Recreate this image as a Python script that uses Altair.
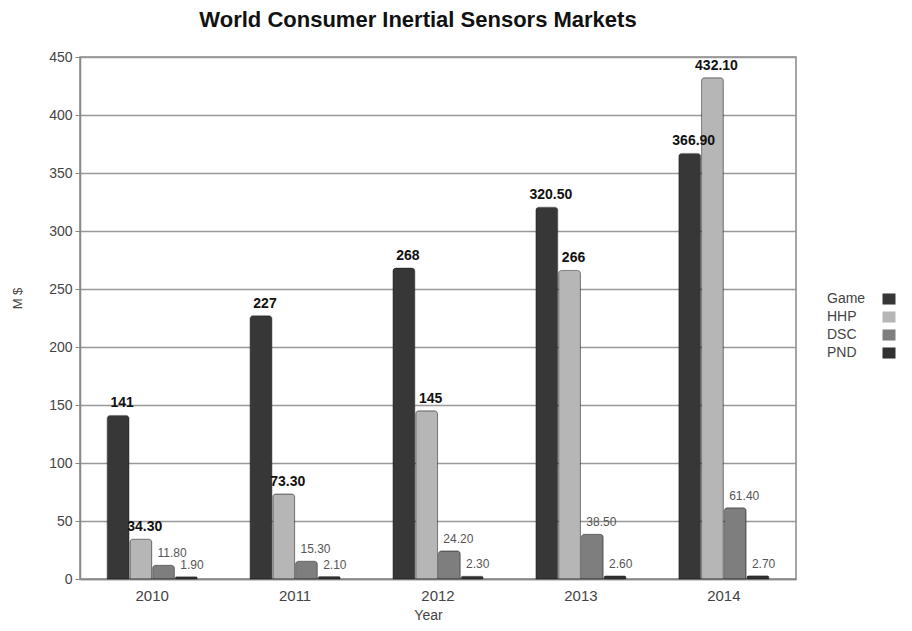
import altair as alt
import pandas as pd

years = ["2010", "2011", "2012", "2013", "2014"]
series = ["Game", "HHP", "DSC", "PND"]
game = [141, 227, 268, 320.5, 366.9]
hhp = [34.3, 73.3, 145, 266, 432.1]
dsc = [11.8, 15.3, 24.2, 38.5, 61.4]
pnd = [1.9, 2.1, 2.3, 2.6, 2.7]
colors = ["#373737", "#b6b6b6", "#7e7e7e", "#323232"]
y_ticks = [0, 50, 100, 150, 200, 250, 300, 350, 400, 450]


def fmt(v):
    return str(int(v)) if float(v).is_integer() else f"{v:.2f}"


rows = []
for s, vals in zip(series, [game, hhp, dsc, pnd]):
    for yr, v in zip(years, vals):
        rows.append({"Year": yr, "Series": s, "Name": s, "Value": v, "Label": fmt(v),
                     "Major": s in ("Game", "HHP"), "Order": series.index(s)})
df = pd.DataFrame(rows)

FONT = "Liberation Sans"

x = alt.X("Year:N", sort=years,
          scale=alt.Scale(paddingInner=0.37, paddingOuter=0.19),
          axis=alt.Axis(title="Year", labelAngle=0, ticks=False, grid=False,
                        labelPadding=9, labelFontSize=15, labelColor="#444",
                        labelFont=FONT, titleFont=FONT, titleFontSize=14,
                        titleFontWeight="normal", titleColor="#444",
                        titleX=348, titleY=29, domainColor="#888", domainWidth=1.5))
xoff = alt.XOffset("Series:N", sort=series,
                   scale=alt.Scale(domain=series, paddingInner=0.04))
y = alt.Y("Value:Q", scale=alt.Scale(domain=[0, 450], nice=False),
          axis=alt.Axis(values=y_ticks, title="M $", labelFontSize=14,
                        labelColor="#444", labelFont=FONT, labelPadding=3,
                        tickSize=5, tickColor="#888", domainColor="#888",
                        domainWidth=1.5, gridColor="#999", gridWidth=1.5,
                        titleFont=FONT, titleFontSize=13, titleFontWeight="normal",
                        titleColor="#444", titleX=-56, titleY=241))
color = alt.Color("Series:N", sort=series,
                  scale=alt.Scale(domain=series, range=colors),
                  legend=alt.Legend(title=None, orient="none", legendX=802, legendY=235,
                                    symbolType="M-1,-0.85H1V0.85H-1Z", symbolSize=169,
                                    symbolStrokeWidth=0, labelExpr="''", labelLimit=1,
                                    labelFontSize=14, labelFont=FONT,
                                    rowPadding=4, padding=0))
names = alt.Opacity("Name:N", sort=alt.EncodingSortField("Order", op="min"),
                    scale=alt.Scale(range=[1, 1, 1, 1]),
                    legend=alt.Legend(title=None, orient="none", legendX=729, legendY=235,
                                      symbolType="M-1,-0.85H1V0.85H-1Z", symbolSize=169,
                                      symbolFillColor="transparent",
                                      symbolStrokeColor="transparent", symbolStrokeWidth=0,
                                      labelFontSize=14, labelColor="#444", labelFont=FONT,
                                      rowPadding=4, padding=0))

bars = alt.Chart(df).mark_bar(cornerRadiusTopLeft=3, cornerRadiusTopRight=3,
                              stroke="#222", strokeWidth=0.5).encode(
    x=x, xOffset=xoff, y=y, color=color, opacity=names)

major = alt.Chart(df).transform_filter("datum.Major").mark_text(
    font=FONT, fontSize=14, fontWeight="bold", color="#111",
    baseline="bottom", dy=-5, dx=4).encode(
    x=x, xOffset=xoff, y=y, text="Label:N")

minor = alt.Chart(df).transform_filter("!datum.Major").mark_text(
    font=FONT, fontSize=12, color="#555", align="left",
    baseline="bottom", dy=-5, dx=-6).encode(
    x=x, xOffset=xoff, y=y, text="Label:N")

chart = alt.layer(bars, major, minor).properties(
    width=716, height=522,
    title=alt.TitleParams("World Consumer Inertial Sensors Markets", font=FONT,
                          fontSize=22, fontWeight="bold", color="#111",
                          anchor="middle", dx=-20, offset=18),
    autosize="none",
    padding={"left": 72, "top": 49, "right": 100, "bottom": 44},
).configure_view(stroke="#888", strokeWidth=1.5)

chart.save("out.html", embed_options={"renderer": "svg", "actions": False})
